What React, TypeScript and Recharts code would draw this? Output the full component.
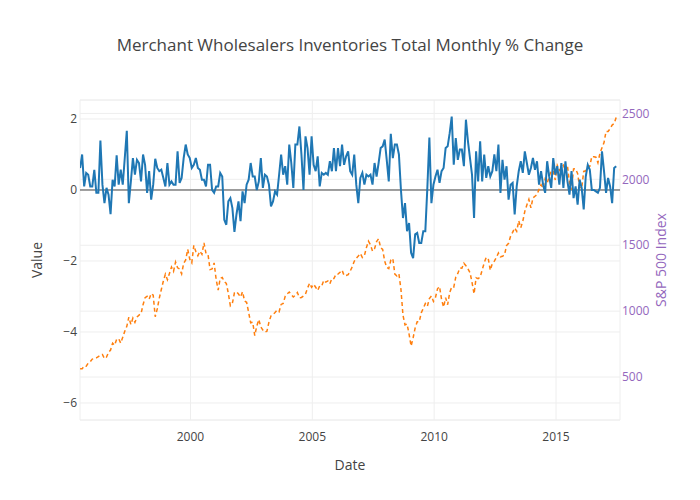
import {
  CartesianGrid,
  Line,
  LineChart,
  ReferenceLine,
  XAxis,
  YAxis,
} from "recharts"

// monthly % change, starting mid-1995
const START_YEAR = 1995.47
const inventoryChange = [
  0.62, 1.0, 0.1, 0.48, 0.43, 0.1, 0.1, 0.57, -0.08, -0.08, 1.39, 0.15, -0.37, 0.06, -0.13, -0.68,
  0.29, 0.1, 0.98, 0.15, 0.57, 0.15, 0.9, 1.67, -0.37, 0.24, 0.9, 0.43, 0.85, 0.76, 0.24, 1.0,
  0.71, -0.08, 0.53, -0.27, 0.15, 0.88, 0.62, 0.53, 0.57, 0.34, 0.1, 0.76, 0.15, 0.24, 0.15, 0.15,
  1.09, 0.2, 0.34, 0.9, 1.28, 1.0,
  0.9, 0.62, 0.71, 0.9, 0.62, 0.57, 0.29, 0.29, 0.1, 0.71, 0.71, 0.0, -0.08, 0.1, 0.1, 0.48,
  0.38, -0.84, -0.98, -0.32, -0.23, -0.51, -1.18, -0.69, -0.32, -0.88, -0.04, -0.37, 0.15, 0.29,
  0.76, 0.38, 0.38, 0.0, 0.24, 0.9, 0.06, 0.43, 0.38, 0.15, -0.46, -0.32, -0.04, -0.13, 0.43, 1.0,
  0.43, 0.67, 0.15, 1.28, 0.76, 0.06, 1.28,
  1.28, 1.79, 1.0, 0, 1.51, 1.18, 0.43, 1.51, 0.71, 0.53, 0.95, 0.1, 0.48, 0.43, 0.48, 0.43, 0.81,
  0.53, 1.18, 0.53, 1.18, 0.67, 1.28, 0.71, 0.95, 1.09, 0.53, 0.43, 1.0, 0.15, -0.37, 0.34, 0.48,
  0.15, 0.43, 0.38, 0.43, 0.15, 0.76, 0.38, 0.76, 1.18, 1.23, 1.42, 0.85, 0.24, 1.58, 0.9, 1.28,
  1.28, 1.0, 0, -0.79,
  -0.37, -1.16, -0.93, -1.77, -1.92, -1.25, -1.21, -1.49, -1.49, -1.16, -1.16, 0.06, 1.48, -0.37,
  0.15, 0.38, 0.57, 0.2, 0.53, 0.62, 1.18, 1.23, 1.6, 2.07, 0.71, 1.46, 0.85, 1.14, 1.14, 0.67,
  1.98, 1.37, 0.9, 0.43, -0.79, 1.09, 0.24, 1.37, 0.24, 1.0, 0.34, 0.67, 0.38, 0.53, 1.0, 0.53,
  1.28, -0.08, 0.85, 0.29, 0.67, -0.27, 0.15, 0.2, -0.69,
  0.1, 0.53, 0.81, 0.48, 1.09, 0.76, 0.43, 0.62, 0.9, 0.57, 0.81, 0.15, 0.53, 0.15, -0.08, 0.81,
  0.38, 0.06, 0.9, 0.43, 0.67, 0.15, 0.76, 0.06, 0.81, 0.24, -0.13, 0.53, -0.23, 0.1, -0.41, 0.29,
  0.06, -0.55, 0.38, 0.71, 0.57, 0, 0, -0.04, -0.08, 0.06, 1.09, 0.53, -0.08, 0.34, 0.1, -0.37,
  0.62, 0.67,
]

// S&P 500 month-end closes, Jul 1995 onward
const sp500 = [
  562, 562, 584, 582, 605, 616,
  636, 640, 645, 654, 669, 671, 640, 651, 687, 705, 757, 741,
  786, 791, 757, 801, 848, 885, 954, 899, 947, 915, 955, 970,
  980, 1049, 1102, 1112, 1091, 1134, 1121, 957, 1017, 1099, 1164, 1229,
  1280, 1238, 1286, 1335, 1302, 1373, 1329, 1320, 1283, 1363, 1389, 1469,
  1394, 1366, 1499, 1452, 1421, 1455, 1431, 1518, 1437, 1429, 1315, 1320,
  1366, 1240, 1160, 1249, 1256, 1224, 1211, 1134, 1041, 1060, 1139, 1148,
  1130, 1107, 1147, 1077, 1067, 990, 912, 916, 815, 886, 936, 880,
  856, 841, 848, 917, 964, 975, 990, 1008, 996, 1051, 1058, 1112,
  1131, 1145, 1126, 1107, 1121, 1141, 1102, 1104, 1115, 1130, 1174, 1212,
  1181, 1204, 1181, 1157, 1192, 1191, 1234, 1220, 1229, 1207, 1249, 1248,
  1280, 1281, 1295, 1311, 1270, 1270, 1277, 1304, 1336, 1378, 1401, 1418,
  1438, 1407, 1421, 1482, 1531, 1503, 1455, 1474, 1527, 1549, 1481, 1468,
  1379, 1331, 1323, 1386, 1400, 1280, 1267, 1283, 1165, 969, 896, 903,
  826, 735, 798, 873, 919, 919, 987, 1021, 1057, 1036, 1096, 1115,
  1074, 1104, 1169, 1187, 1089, 1031, 1102, 1049, 1141, 1183, 1181, 1258,
  1286, 1327, 1326, 1364, 1345, 1321, 1292, 1219, 1131, 1253, 1247, 1258,
  1312, 1366, 1408, 1398, 1310, 1362, 1379, 1407, 1441, 1412, 1416, 1426,
  1498, 1515, 1569, 1598, 1631, 1606, 1686, 1633, 1682, 1757, 1806, 1848,
  1783, 1859, 1872, 1884, 1924, 1960, 1931, 2003, 1972, 2018, 2068, 2059,
  1995, 2105, 2068, 2086, 2107, 2063, 2104, 1972, 1920, 2079, 2080, 2044,
  1940, 1932, 2060, 2065, 2097, 2099, 2174, 2171, 2168, 2126, 2199, 2239,
  2279, 2364, 2363, 2384, 2412, 2423, 2470, 2472,
]

const yearTicks = [2000, 2005, 2010, 2015]
const valueTicks = [-6, -4, -2, 0, 2]
const indexTicks = [500, 1000, 1500, 2000, 2500]

const inventoryData = inventoryChange.map((v, i) => ({ year: START_YEAR + i / 12, value: v }))
const spData = sp500.map((v, i) => ({ year: START_YEAR + i / 12, sp: v }))

const FONT = '"Open Sans", verdana, arial, sans-serif'
const PURPLE = "#9467bd"

export default function App() {
  return (
    <div style={{ position: "absolute", left: 0, top: 0, width: 700, height: 500, background: "#fff", fontFamily: FONT }}>
      <LineChart width={700} height={500} margin={{ top: 100, right: 30, bottom: 0, left: 40 }}>
        <CartesianGrid yAxisId="left" xAxisId="x" stroke="#eee" strokeWidth={1} />
        <CartesianGrid yAxisId="right" xAxisId="x" stroke="#eee" strokeWidth={1} vertical={false} />
        <XAxis
          xAxisId="x"
          dataKey="year"
          type="number"
          domain={[1995.466, 2017.626]}
          allowDataOverflow
          ticks={yearTicks}
          tickFormatter={(t: number) => String(Math.round(t))}
          tick={{ fill: "#444", fontSize: 12, fontFamily: FONT }}
          tickLine={false}
          axisLine={false}
          tickSize={0}
          tickMargin={12}
          height={80}
          label={{ value: "Date", position: "insideTop", offset: 40, fill: "#444", fontSize: 14, fontFamily: FONT }}
        />
        <YAxis
          yAxisId="left"
          type="number"
          domain={[-6.479, 2.535]}
          allowDataOverflow
          ticks={valueTicks}
          tickFormatter={(t: number) => (t < 0 ? `\u2212${Math.abs(t)}` : String(t))}
          tick={{ fill: "#444", fontSize: 12, fontFamily: FONT }}
          tickLine={false}
          axisLine={false}
          tickSize={0}
          tickMargin={3}
          width={40}
        />
        <YAxis
          yAxisId="right"
          orientation="right"
          type="number"
          domain={[174, 2602]}
          allowDataOverflow
          ticks={indexTicks}
          tick={{ fill: PURPLE, fontSize: 12, fontFamily: FONT }}
          tickLine={false}
          axisLine={false}
          tickSize={0}
          tickMargin={2}
          width={50}
        />
        <ReferenceLine yAxisId="left" xAxisId="x" y={0} stroke="#444" strokeWidth={1} />
        <Line
          data={spData}
          xAxisId="x"
          yAxisId="right"
          dataKey="sp"
          type="linear"
          stroke="#ff7f0e"
          strokeWidth={1.5}
          strokeDasharray="4 3"
          dot={false}
          isAnimationActive={false}
        />
        <Line
          data={inventoryData}
          xAxisId="x"
          yAxisId="left"
          dataKey="value"
          type="linear"
          stroke="#1f77b4"
          strokeWidth={2}
          dot={false}
          isAnimationActive={false}
        />
        <text x={350} y={51} textAnchor="middle" fill="#444" fontSize={17} fontFamily={FONT}>
          Merchant Wholesalers Inventories Total Monthly % Change
        </text>
        <text
          x={42}
          y={260}
          textAnchor="middle"
          fill="#444"
          fontSize={14}
          fontFamily={FONT}
          transform="rotate(-90 42 260)"
        >
          Value
        </text>
        <text
          x={666}
          y={260}
          textAnchor="middle"
          fill={PURPLE}
          fontSize={14}
          fontFamily={FONT}
          transform="rotate(-90 666 260)"
        >
          S&amp;P 500 Index
        </text>
      </LineChart>
    </div>
  )
}
